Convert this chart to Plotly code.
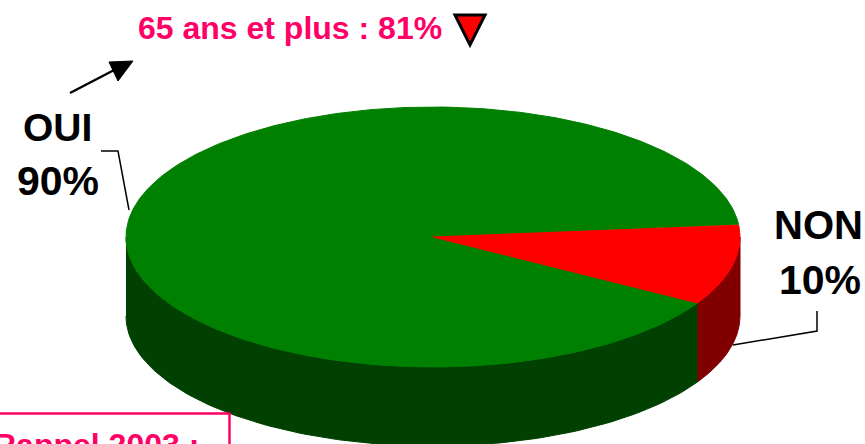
import numpy as np
import plotly.graph_objects as go

categories = ["OUI", "NON"]
values = [90, 10]
headline = "65 ans et plus : 81%"
recall = "Rappel 2003 :"

TOP = {"OUI": "#008000", "NON": "#FF0000"}
SIDE = {"OUI": "#004000", "NON": "#800000"}
W, H = 865, 444
CX, CY, RX, RY, DEPTH = 433, 237, 307, 130, 79
START = 5.5  # degrees: NON slice begins here and runs clockwise


def pt(t, dy=0):
    r = np.radians(t)
    return CX + RX * np.cos(r), CY - RY * np.sin(r) + dy


total = sum(values)
non_span = values[1] / total * 360
non = (START, START - non_span)
oui = (START - non_span, START - 360)

fig = go.Figure()


def poly(x, y, color):
    fig.add_trace(go.Scatter(x=x, y=y, mode="lines", fill="toself", fillcolor=color,
                             line=dict(color=color, width=1), hoverinfo="skip", showlegend=False))


def side(t0, t1, color):
    t = np.linspace(t0, t1, 120)
    x, y = pt(t)
    xb, yb = pt(t[::-1], DEPTH)
    poly(np.r_[x, xb], np.r_[y, yb], color)


def sector(t0, t1, color):
    t = np.linspace(t0, t1, 400)
    x, y = pt(t)
    poly(np.r_[CX, x, CX], np.r_[CY, y, CY], color)


side(-180, non[1], SIDE["OUI"])
side(non[1], 0, SIDE["NON"])
sector(oui[0], oui[1], TOP["OUI"])
sector(non[0], non[1], TOP["NON"])

black = dict(color="black", width=1.5)
shapes = [
    dict(type="path", path="M101,151 L118,151 L129,210", line=black),
    dict(type="path", path="M817,311 L817,331 L733,345", line=black),
    dict(type="line", x0=70, y0=93, x1=118, y1=68, line=dict(color="black", width=2.5)),
    dict(type="path", path="M109,62 L133,61 L118,81 Z", fillcolor="black", line=dict(color="black", width=1)),
    dict(type="path", path="M455,15 L485,15 L470,45 Z", fillcolor="#FF0000", line=dict(color="black", width=3)),
    dict(type="rect", x0=-10, x1=229.5, y0=413.5, y1=470, line=dict(color="#FF0066", width=2.5)),
]


def label(x, y, text, size, color="black", yanchor="middle"):
    return dict(x=x, y=y, text=f"<b>{text}</b>", showarrow=False, xanchor="center", yanchor=yanchor,
                font=dict(family="Liberation Sans", size=size, color=color))


annotations = [
    label(57, 127, categories[0], 39),
    label(58, 181, f"{values[0]}%", 41),
    label(818, 225, categories[1], 40),
    label(820, 280, f"{values[1]}%", 41),
    label(290, 28, headline, 32, "#FF0066"),
    label(96, 425, recall, 32, "#FF0066", yanchor="top"),
]

fig.update_layout(
    width=W, height=H, margin=dict(l=0, r=0, t=0, b=0),
    paper_bgcolor="white", plot_bgcolor="white", showlegend=False,
    xaxis=dict(range=[0, W], visible=False, fixedrange=True),
    yaxis=dict(range=[H, 0], visible=False, fixedrange=True),
    shapes=shapes, annotations=annotations,
)
fig.write_html("out.html", config={"displayModeBar": False},
               post_script="document.body.style.margin='0';document.body.style.overflow='hidden';")
